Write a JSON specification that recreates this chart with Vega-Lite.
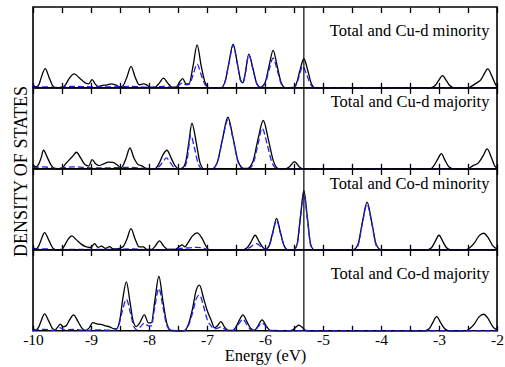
{
  "$schema": "https://vega.github.io/schema/vega-lite/v6.json",
  "background": "white",
  "padding": {"left": 11, "top": 5, "right": 0, "bottom": 0},
  "spacing": 0,
  "bounds": "flush",
  "config": {
    "font": "Liberation Serif",
    "view": {"stroke": "black", "strokeWidth": 1.6},
    "axis": {"tickColor": "black", "labelColor": "black", "titleColor": "black", "labelFont": "Liberation Serif", "titleFont": "Liberation Serif", "labelFontSize": 15.5, "titleFontSize": 18, "titleFontWeight": "normal", "tickWidth": 1.3, "domain": false, "grid": false, "labelFlush": false, "labelOverlap": false}
  },
  "datasets": {
    "L": [
      {"p": 1, "x": -2.13, "y": 52.7, "label": "Total and Cu-d minority"},
      {"p": 2, "x": -2.13, "y": 62.5, "label": "Total and Cu-d majority"},
      {"p": 3, "x": -2.13, "y": 61, "label": "Total and Co-d minority"},
      {"p": 4, "x": -2.13, "y": 52.3, "label": "Total and Co-d majority"}
    ],
    "d": [
      {"p":1,"s":"t","x":-10,"y":3},{"p":1,"s":"t","x":-9.95,"y":1},{"p":1,"s":"t","x":-9.9,"y":3},{"p":1,"s":"t","x":-9.86,"y":10},{"p":1,"s":"t","x":-9.79,"y":19.3},{"p":1,"s":"t","x":-9.72,"y":10},{"p":1,"s":"t","x":-9.66,"y":2},{"p":1,"s":"t","x":-9.6,"y":0},{"p":1,"s":"t","x":-9.5,"y":0.5},{"p":1,"s":"t","x":-9.44,"y":3},{"p":1,"s":"t","x":-9.38,"y":9},{"p":1,"s":"t","x":-9.29,"y":14},{"p":1,"s":"t","x":-9.2,"y":10},{"p":1,"s":"t","x":-9.1,"y":5},{"p":1,"s":"t","x":-9.04,"y":4},{"p":1,"s":"t","x":-8.98,"y":8.3},{"p":1,"s":"t","x":-8.93,"y":4},{"p":1,"s":"t","x":-8.88,"y":1.5},{"p":1,"s":"t","x":-8.8,"y":2.5},{"p":1,"s":"t","x":-8.72,"y":3},{"p":1,"s":"t","x":-8.65,"y":4},{"p":1,"s":"t","x":-8.58,"y":3},{"p":1,"s":"t","x":-8.5,"y":1},{"p":1,"s":"t","x":-8.45,"y":2},{"p":1,"s":"t","x":-8.38,"y":11},{"p":1,"s":"t","x":-8.31,"y":21.7},{"p":1,"s":"t","x":-8.24,"y":11},{"p":1,"s":"t","x":-8.17,"y":3},{"p":1,"s":"t","x":-8.1,"y":4},{"p":1,"s":"t","x":-8.04,"y":3},{"p":1,"s":"t","x":-7.98,"y":0.5},{"p":1,"s":"t","x":-7.9,"y":0.5},{"p":1,"s":"t","x":-7.82,"y":5},{"p":1,"s":"t","x":-7.75,"y":9.7},{"p":1,"s":"t","x":-7.68,"y":5},{"p":1,"s":"t","x":-7.6,"y":0.5},{"p":1,"s":"t","x":-7.52,"y":1},{"p":1,"s":"t","x":-7.47,"y":6},{"p":1,"s":"t","x":-7.42,"y":9.3},{"p":1,"s":"t","x":-7.36,"y":4},{"p":1,"s":"t","x":-7.31,"y":4},{"p":1,"s":"t","x":-7.24,"y":22},{"p":1,"s":"t","x":-7.17,"y":43.3},{"p":1,"s":"t","x":-7.1,"y":22},{"p":1,"s":"t","x":-7.03,"y":5},{"p":1,"s":"t","x":-6.96,"y":0},{"p":1,"s":"t","x":-6.76,"y":0},{"p":1,"s":"t","x":-6.69,"y":6},{"p":1,"s":"t","x":-6.62,"y":26},{"p":1,"s":"t","x":-6.55,"y":44},{"p":1,"s":"t","x":-6.48,"y":26},{"p":1,"s":"t","x":-6.42,"y":8},{"p":1,"s":"t","x":-6.38,"y":5},{"p":1,"s":"t","x":-6.34,"y":15},{"p":1,"s":"t","x":-6.28,"y":34},{"p":1,"s":"t","x":-6.21,"y":20},{"p":1,"s":"t","x":-6.14,"y":4},{"p":1,"s":"t","x":-6.08,"y":0.5},{"p":1,"s":"t","x":-6.0,"y":5},{"p":1,"s":"t","x":-5.93,"y":22},{"p":1,"s":"t","x":-5.86,"y":37.7},{"p":1,"s":"t","x":-5.79,"y":22},{"p":1,"s":"t","x":-5.72,"y":5},{"p":1,"s":"t","x":-5.65,"y":0},{"p":1,"s":"t","x":-5.5,"y":0.5},{"p":1,"s":"t","x":-5.46,"y":4},{"p":1,"s":"t","x":-5.4,"y":17},{"p":1,"s":"t","x":-5.33,"y":29.3},{"p":1,"s":"t","x":-5.26,"y":17},{"p":1,"s":"t","x":-5.2,"y":4},{"p":1,"s":"t","x":-5.14,"y":0},{"p":1,"s":"t","x":-3.15,"y":0},{"p":1,"s":"t","x":-3.07,"y":2},{"p":1,"s":"t","x":-3.01,"y":7},{"p":1,"s":"t","x":-2.94,"y":12.3},{"p":1,"s":"t","x":-2.87,"y":7},{"p":1,"s":"t","x":-2.81,"y":2},{"p":1,"s":"t","x":-2.74,"y":0},{"p":1,"s":"t","x":-2.5,"y":0},{"p":1,"s":"t","x":-2.43,"y":2},{"p":1,"s":"t","x":-2.35,"y":5},{"p":1,"s":"t","x":-2.28,"y":8},{"p":1,"s":"t","x":-2.22,"y":14},{"p":1,"s":"t","x":-2.16,"y":19},{"p":1,"s":"t","x":-2.09,"y":12},{"p":1,"s":"t","x":-2.03,"y":4},{"p":1,"s":"t","x":-2.0,"y":1},
      {"p":1,"s":"p","x":-10,"y":0.5},{"p":1,"s":"p","x":-9.8,"y":1},{"p":1,"s":"p","x":-9.6,"y":0.5},{"p":1,"s":"p","x":-9.3,"y":1.5},{"p":1,"s":"p","x":-9.0,"y":1},{"p":1,"s":"p","x":-8.6,"y":1},{"p":1,"s":"p","x":-8.3,"y":1.5},{"p":1,"s":"p","x":-8.0,"y":0.5},{"p":1,"s":"p","x":-7.75,"y":1.5},{"p":1,"s":"p","x":-7.6,"y":0.5},{"p":1,"s":"p","x":-7.48,"y":3},{"p":1,"s":"p","x":-7.42,"y":5},{"p":1,"s":"p","x":-7.36,"y":3},{"p":1,"s":"p","x":-7.3,"y":4},{"p":1,"s":"p","x":-7.24,"y":13},{"p":1,"s":"p","x":-7.17,"y":24},{"p":1,"s":"p","x":-7.1,"y":13},{"p":1,"s":"p","x":-7.03,"y":3},{"p":1,"s":"p","x":-6.96,"y":0},{"p":1,"s":"p","x":-6.76,"y":0},{"p":1,"s":"p","x":-6.69,"y":6},{"p":1,"s":"p","x":-6.62,"y":25},{"p":1,"s":"p","x":-6.55,"y":43},{"p":1,"s":"p","x":-6.48,"y":25},{"p":1,"s":"p","x":-6.42,"y":7},{"p":1,"s":"p","x":-6.38,"y":5},{"p":1,"s":"p","x":-6.34,"y":14},{"p":1,"s":"p","x":-6.28,"y":33},{"p":1,"s":"p","x":-6.21,"y":19},{"p":1,"s":"p","x":-6.14,"y":4},{"p":1,"s":"p","x":-6.08,"y":0.5},{"p":1,"s":"p","x":-6.0,"y":4},{"p":1,"s":"p","x":-5.93,"y":18},{"p":1,"s":"p","x":-5.86,"y":30},{"p":1,"s":"p","x":-5.79,"y":18},{"p":1,"s":"p","x":-5.72,"y":4},{"p":1,"s":"p","x":-5.65,"y":0},{"p":1,"s":"p","x":-5.5,"y":0},{"p":1,"s":"p","x":-5.46,"y":3},{"p":1,"s":"p","x":-5.41,"y":12},{"p":1,"s":"p","x":-5.35,"y":22},{"p":1,"s":"p","x":-5.28,"y":13},{"p":1,"s":"p","x":-5.21,"y":3},{"p":1,"s":"p","x":-5.14,"y":0},{"p":1,"s":"p","x":-2.0,"y":0},
      {"p":2,"s":"t","x":-10,"y":4},{"p":2,"s":"t","x":-9.95,"y":2},{"p":2,"s":"t","x":-9.9,"y":5},{"p":2,"s":"t","x":-9.86,"y":11},{"p":2,"s":"t","x":-9.82,"y":18.7},{"p":2,"s":"t","x":-9.75,"y":11},{"p":2,"s":"t","x":-9.68,"y":3},{"p":2,"s":"t","x":-9.6,"y":0},{"p":2,"s":"t","x":-9.5,"y":0.5},{"p":2,"s":"t","x":-9.44,"y":5},{"p":2,"s":"t","x":-9.38,"y":8.7},{"p":2,"s":"t","x":-9.31,"y":13},{"p":2,"s":"t","x":-9.25,"y":16.7},{"p":2,"s":"t","x":-9.18,"y":11},{"p":2,"s":"t","x":-9.1,"y":4},{"p":2,"s":"t","x":-9.04,"y":2.7},{"p":2,"s":"t","x":-8.98,"y":9.3},{"p":2,"s":"t","x":-8.92,"y":5},{"p":2,"s":"t","x":-8.86,"y":3.3},{"p":2,"s":"t","x":-8.78,"y":5},{"p":2,"s":"t","x":-8.7,"y":6.7},{"p":2,"s":"t","x":-8.62,"y":6.5},{"p":2,"s":"t","x":-8.55,"y":4},{"p":2,"s":"t","x":-8.48,"y":1},{"p":2,"s":"t","x":-8.4,"y":10},{"p":2,"s":"t","x":-8.33,"y":21},{"p":2,"s":"t","x":-8.26,"y":11},{"p":2,"s":"t","x":-8.19,"y":4.3},{"p":2,"s":"t","x":-8.12,"y":3},{"p":2,"s":"t","x":-8.05,"y":0.5},{"p":2,"s":"t","x":-7.9,"y":0},{"p":2,"s":"t","x":-7.83,"y":5},{"p":2,"s":"t","x":-7.76,"y":14},{"p":2,"s":"t","x":-7.69,"y":18.7},{"p":2,"s":"t","x":-7.62,"y":11},{"p":2,"s":"t","x":-7.55,"y":3},{"p":2,"s":"t","x":-7.48,"y":0},{"p":2,"s":"t","x":-7.42,"y":1},{"p":2,"s":"t","x":-7.36,"y":9},{"p":2,"s":"t","x":-7.31,"y":28},{"p":2,"s":"t","x":-7.26,"y":46},{"p":2,"s":"t","x":-7.19,"y":28},{"p":2,"s":"t","x":-7.12,"y":6},{"p":2,"s":"t","x":-7.05,"y":0},{"p":2,"s":"t","x":-6.91,"y":0},{"p":2,"s":"t","x":-6.82,"y":7},{"p":2,"s":"t","x":-6.73,"y":31},{"p":2,"s":"t","x":-6.64,"y":52},{"p":2,"s":"t","x":-6.55,"y":31},{"p":2,"s":"t","x":-6.46,"y":7},{"p":2,"s":"t","x":-6.37,"y":0.5},{"p":2,"s":"t","x":-6.3,"y":0.5},{"p":2,"s":"t","x":-6.21,"y":7},{"p":2,"s":"t","x":-6.12,"y":30},{"p":2,"s":"t","x":-6.03,"y":48.7},{"p":2,"s":"t","x":-5.94,"y":29},{"p":2,"s":"t","x":-5.85,"y":7},{"p":2,"s":"t","x":-5.76,"y":0},{"p":2,"s":"t","x":-5.65,"y":0},{"p":2,"s":"t","x":-5.58,"y":2},{"p":2,"s":"t","x":-5.49,"y":7.3},{"p":2,"s":"t","x":-5.41,"y":2},{"p":2,"s":"t","x":-5.35,"y":0},{"p":2,"s":"t","x":-3.15,"y":0},{"p":2,"s":"t","x":-3.09,"y":3},{"p":2,"s":"t","x":-3.02,"y":10},{"p":2,"s":"t","x":-2.96,"y":15.3},{"p":2,"s":"t","x":-2.9,"y":9},{"p":2,"s":"t","x":-2.83,"y":2},{"p":2,"s":"t","x":-2.76,"y":0},{"p":2,"s":"t","x":-2.5,"y":0},{"p":2,"s":"t","x":-2.42,"y":3},{"p":2,"s":"t","x":-2.32,"y":6},{"p":2,"s":"t","x":-2.24,"y":13},{"p":2,"s":"t","x":-2.17,"y":20},{"p":2,"s":"t","x":-2.1,"y":12},{"p":2,"s":"t","x":-2.04,"y":3},{"p":2,"s":"t","x":-2.0,"y":1},
      {"p":2,"s":"p","x":-10,"y":1},{"p":2,"s":"p","x":-9.82,"y":2},{"p":2,"s":"p","x":-9.6,"y":0.5},{"p":2,"s":"p","x":-9.3,"y":2},{"p":2,"s":"p","x":-9.0,"y":1},{"p":2,"s":"p","x":-8.7,"y":1},{"p":2,"s":"p","x":-8.33,"y":1.5},{"p":2,"s":"p","x":-8.1,"y":0.5},{"p":2,"s":"p","x":-7.9,"y":0},{"p":2,"s":"p","x":-7.83,"y":2},{"p":2,"s":"p","x":-7.76,"y":7},{"p":2,"s":"p","x":-7.7,"y":11},{"p":2,"s":"p","x":-7.63,"y":6},{"p":2,"s":"p","x":-7.56,"y":1},{"p":2,"s":"p","x":-7.48,"y":0},{"p":2,"s":"p","x":-7.4,"y":1},{"p":2,"s":"p","x":-7.34,"y":10},{"p":2,"s":"p","x":-7.28,"y":34},{"p":2,"s":"p","x":-7.22,"y":22},{"p":2,"s":"p","x":-7.15,"y":5},{"p":2,"s":"p","x":-7.08,"y":0},{"p":2,"s":"p","x":-6.91,"y":0},{"p":2,"s":"p","x":-6.82,"y":7},{"p":2,"s":"p","x":-6.73,"y":30},{"p":2,"s":"p","x":-6.64,"y":49.3},{"p":2,"s":"p","x":-6.55,"y":30},{"p":2,"s":"p","x":-6.46,"y":6},{"p":2,"s":"p","x":-6.37,"y":0},{"p":2,"s":"p","x":-6.28,"y":0},{"p":2,"s":"p","x":-6.2,"y":6},{"p":2,"s":"p","x":-6.12,"y":25},{"p":2,"s":"p","x":-6.05,"y":41},{"p":2,"s":"p","x":-5.96,"y":24},{"p":2,"s":"p","x":-5.87,"y":5},{"p":2,"s":"p","x":-5.78,"y":0},{"p":2,"s":"p","x":-2.0,"y":0},
      {"p":3,"s":"t","x":-10,"y":2},{"p":3,"s":"t","x":-9.95,"y":1},{"p":3,"s":"t","x":-9.9,"y":4},{"p":3,"s":"t","x":-9.86,"y":10},{"p":3,"s":"t","x":-9.8,"y":17.3},{"p":3,"s":"t","x":-9.73,"y":10},{"p":3,"s":"t","x":-9.66,"y":2},{"p":3,"s":"t","x":-9.6,"y":0},{"p":3,"s":"t","x":-9.5,"y":0.5},{"p":3,"s":"t","x":-9.45,"y":5},{"p":3,"s":"t","x":-9.39,"y":11},{"p":3,"s":"t","x":-9.33,"y":14},{"p":3,"s":"t","x":-9.25,"y":10},{"p":3,"s":"t","x":-9.17,"y":5.7},{"p":3,"s":"t","x":-9.08,"y":3},{"p":3,"s":"t","x":-9.0,"y":2.3},{"p":3,"s":"t","x":-8.94,"y":6.3},{"p":3,"s":"t","x":-8.88,"y":2.5},{"p":3,"s":"t","x":-8.82,"y":3.7},{"p":3,"s":"t","x":-8.75,"y":1.5},{"p":3,"s":"t","x":-8.68,"y":3.3},{"p":3,"s":"t","x":-8.62,"y":1},{"p":3,"s":"t","x":-8.56,"y":1},{"p":3,"s":"t","x":-8.45,"y":3},{"p":3,"s":"t","x":-8.38,"y":11},{"p":3,"s":"t","x":-8.31,"y":21.3},{"p":3,"s":"t","x":-8.24,"y":11},{"p":3,"s":"t","x":-8.17,"y":3},{"p":3,"s":"t","x":-8.1,"y":3},{"p":3,"s":"t","x":-8.04,"y":0.5},{"p":3,"s":"t","x":-7.95,"y":0.5},{"p":3,"s":"t","x":-7.89,"y":4},{"p":3,"s":"t","x":-7.82,"y":9},{"p":3,"s":"t","x":-7.75,"y":4},{"p":3,"s":"t","x":-7.68,"y":0.5},{"p":3,"s":"t","x":-7.55,"y":0.5},{"p":3,"s":"t","x":-7.48,"y":3},{"p":3,"s":"t","x":-7.43,"y":5},{"p":3,"s":"t","x":-7.38,"y":3},{"p":3,"s":"t","x":-7.33,"y":7},{"p":3,"s":"t","x":-7.25,"y":14},{"p":3,"s":"t","x":-7.17,"y":17},{"p":3,"s":"t","x":-7.09,"y":12},{"p":3,"s":"t","x":-7.02,"y":4},{"p":3,"s":"t","x":-6.96,"y":0},{"p":3,"s":"t","x":-6.38,"y":0},{"p":3,"s":"t","x":-6.31,"y":2},{"p":3,"s":"t","x":-6.24,"y":8},{"p":3,"s":"t","x":-6.17,"y":14.7},{"p":3,"s":"t","x":-6.1,"y":8},{"p":3,"s":"t","x":-6.03,"y":2},{"p":3,"s":"t","x":-5.99,"y":0.5},{"p":3,"s":"t","x":-5.93,"y":4},{"p":3,"s":"t","x":-5.86,"y":19},{"p":3,"s":"t","x":-5.8,"y":31.7},{"p":3,"s":"t","x":-5.74,"y":19},{"p":3,"s":"t","x":-5.67,"y":4},{"p":3,"s":"t","x":-5.61,"y":0},{"p":3,"s":"t","x":-5.51,"y":0},{"p":3,"s":"t","x":-5.45,"y":5},{"p":3,"s":"t","x":-5.39,"y":33},{"p":3,"s":"t","x":-5.33,"y":59.7},{"p":3,"s":"t","x":-5.27,"y":33},{"p":3,"s":"t","x":-5.21,"y":5},{"p":3,"s":"t","x":-5.15,"y":0},{"p":3,"s":"t","x":-4.48,"y":0},{"p":3,"s":"t","x":-4.4,"y":5},{"p":3,"s":"t","x":-4.32,"y":28},{"p":3,"s":"t","x":-4.24,"y":48},{"p":3,"s":"t","x":-4.16,"y":28},{"p":3,"s":"t","x":-4.08,"y":5},{"p":3,"s":"t","x":-4.0,"y":0},{"p":3,"s":"t","x":-3.2,"y":0},{"p":3,"s":"t","x":-3.13,"y":2},{"p":3,"s":"t","x":-3.07,"y":8},{"p":3,"s":"t","x":-3.0,"y":14.7},{"p":3,"s":"t","x":-2.93,"y":8},{"p":3,"s":"t","x":-2.87,"y":2},{"p":3,"s":"t","x":-2.8,"y":0},{"p":3,"s":"t","x":-2.55,"y":0},{"p":3,"s":"t","x":-2.47,"y":2},{"p":3,"s":"t","x":-2.39,"y":7},{"p":3,"s":"t","x":-2.31,"y":14},{"p":3,"s":"t","x":-2.23,"y":16.7},{"p":3,"s":"t","x":-2.15,"y":12},{"p":3,"s":"t","x":-2.07,"y":4},{"p":3,"s":"t","x":-2.0,"y":1},
      {"p":3,"s":"p","x":-10,"y":0.5},{"p":3,"s":"p","x":-9.8,"y":1},{"p":3,"s":"p","x":-9.6,"y":0},{"p":3,"s":"p","x":-9.3,"y":0.5},{"p":3,"s":"p","x":-8.6,"y":0.5},{"p":3,"s":"p","x":-8.31,"y":1},{"p":3,"s":"p","x":-8.0,"y":0},{"p":3,"s":"p","x":-7.6,"y":0.5},{"p":3,"s":"p","x":-7.45,"y":1.5},{"p":3,"s":"p","x":-7.3,"y":2},{"p":3,"s":"p","x":-7.17,"y":2.5},{"p":3,"s":"p","x":-7.05,"y":1.5},{"p":3,"s":"p","x":-6.96,"y":0},{"p":3,"s":"p","x":-6.35,"y":0},{"p":3,"s":"p","x":-6.27,"y":2},{"p":3,"s":"p","x":-6.2,"y":5},{"p":3,"s":"p","x":-6.14,"y":6.3},{"p":3,"s":"p","x":-6.07,"y":3},{"p":3,"s":"p","x":-6.0,"y":0.5},{"p":3,"s":"p","x":-5.93,"y":4},{"p":3,"s":"p","x":-5.86,"y":18},{"p":3,"s":"p","x":-5.8,"y":30},{"p":3,"s":"p","x":-5.74,"y":18},{"p":3,"s":"p","x":-5.67,"y":4},{"p":3,"s":"p","x":-5.61,"y":0},{"p":3,"s":"p","x":-5.51,"y":0},{"p":3,"s":"p","x":-5.45,"y":4},{"p":3,"s":"p","x":-5.39,"y":31},{"p":3,"s":"p","x":-5.33,"y":57},{"p":3,"s":"p","x":-5.27,"y":31},{"p":3,"s":"p","x":-5.21,"y":4},{"p":3,"s":"p","x":-5.15,"y":0},{"p":3,"s":"p","x":-4.48,"y":0},{"p":3,"s":"p","x":-4.4,"y":4},{"p":3,"s":"p","x":-4.32,"y":27},{"p":3,"s":"p","x":-4.24,"y":46},{"p":3,"s":"p","x":-4.16,"y":27},{"p":3,"s":"p","x":-4.08,"y":4},{"p":3,"s":"p","x":-4.0,"y":0},{"p":3,"s":"p","x":-2.0,"y":0},
      {"p":4,"s":"t","x":-10,"y":2},{"p":4,"s":"t","x":-9.95,"y":1},{"p":4,"s":"t","x":-9.9,"y":4},{"p":4,"s":"t","x":-9.86,"y":10},{"p":4,"s":"t","x":-9.8,"y":17},{"p":4,"s":"t","x":-9.73,"y":10},{"p":4,"s":"t","x":-9.66,"y":2},{"p":4,"s":"t","x":-9.62,"y":1},{"p":4,"s":"t","x":-9.57,"y":4},{"p":4,"s":"t","x":-9.53,"y":6.7},{"p":4,"s":"t","x":-9.48,"y":4},{"p":4,"s":"t","x":-9.43,"y":5},{"p":4,"s":"t","x":-9.37,"y":11},{"p":4,"s":"t","x":-9.3,"y":16},{"p":4,"s":"t","x":-9.23,"y":10},{"p":4,"s":"t","x":-9.16,"y":3},{"p":4,"s":"t","x":-9.1,"y":0.5},{"p":4,"s":"t","x":-9.03,"y":3},{"p":4,"s":"t","x":-8.97,"y":8.3},{"p":4,"s":"t","x":-8.9,"y":7},{"p":4,"s":"t","x":-8.83,"y":6.5},{"p":4,"s":"t","x":-8.75,"y":5},{"p":4,"s":"t","x":-8.68,"y":4},{"p":4,"s":"t","x":-8.6,"y":2},{"p":4,"s":"t","x":-8.56,"y":2},{"p":4,"s":"t","x":-8.5,"y":12},{"p":4,"s":"t","x":-8.45,"y":33},{"p":4,"s":"t","x":-8.39,"y":49.3},{"p":4,"s":"t","x":-8.33,"y":30},{"p":4,"s":"t","x":-8.27,"y":9},{"p":4,"s":"t","x":-8.22,"y":4.3},{"p":4,"s":"t","x":-8.16,"y":8},{"p":4,"s":"t","x":-8.08,"y":16},{"p":4,"s":"t","x":-8.01,"y":8},{"p":4,"s":"t","x":-7.96,"y":8},{"p":4,"s":"t","x":-7.9,"y":30},{"p":4,"s":"t","x":-7.83,"y":55},{"p":4,"s":"t","x":-7.76,"y":30},{"p":4,"s":"t","x":-7.69,"y":7},{"p":4,"s":"t","x":-7.62,"y":0.5},{"p":4,"s":"t","x":-7.4,"y":0},{"p":4,"s":"t","x":-7.33,"y":5},{"p":4,"s":"t","x":-7.25,"y":22},{"p":4,"s":"t","x":-7.19,"y":40},{"p":4,"s":"t","x":-7.13,"y":46},{"p":4,"s":"t","x":-7.06,"y":33},{"p":4,"s":"t","x":-7.0,"y":21},{"p":4,"s":"t","x":-6.93,"y":11},{"p":4,"s":"t","x":-6.87,"y":3},{"p":4,"s":"t","x":-6.82,"y":5},{"p":4,"s":"t","x":-6.76,"y":9.3},{"p":4,"s":"t","x":-6.7,"y":4},{"p":4,"s":"t","x":-6.63,"y":0.5},{"p":4,"s":"t","x":-6.56,"y":0.5},{"p":4,"s":"t","x":-6.5,"y":4},{"p":4,"s":"t","x":-6.44,"y":11},{"p":4,"s":"t","x":-6.38,"y":16},{"p":4,"s":"t","x":-6.31,"y":9},{"p":4,"s":"t","x":-6.24,"y":2},{"p":4,"s":"t","x":-6.18,"y":0.5},{"p":4,"s":"t","x":-6.12,"y":5},{"p":4,"s":"t","x":-6.05,"y":11},{"p":4,"s":"t","x":-5.98,"y":5},{"p":4,"s":"t","x":-5.91,"y":0.5},{"p":4,"s":"t","x":-5.6,"y":0},{"p":4,"s":"t","x":-5.52,"y":1},{"p":4,"s":"t","x":-5.46,"y":4},{"p":4,"s":"t","x":-5.42,"y":5.7},{"p":4,"s":"t","x":-5.37,"y":4},{"p":4,"s":"t","x":-5.3,"y":0.5},{"p":4,"s":"t","x":-5.2,"y":0},{"p":4,"s":"t","x":-3.25,"y":0},{"p":4,"s":"t","x":-3.17,"y":2},{"p":4,"s":"t","x":-3.11,"y":8},{"p":4,"s":"t","x":-3.04,"y":14.3},{"p":4,"s":"t","x":-2.97,"y":8},{"p":4,"s":"t","x":-2.9,"y":2},{"p":4,"s":"t","x":-2.83,"y":0},{"p":4,"s":"t","x":-2.55,"y":0},{"p":4,"s":"t","x":-2.47,"y":2},{"p":4,"s":"t","x":-2.39,"y":7},{"p":4,"s":"t","x":-2.31,"y":14},{"p":4,"s":"t","x":-2.23,"y":16.7},{"p":4,"s":"t","x":-2.15,"y":12},{"p":4,"s":"t","x":-2.07,"y":4},{"p":4,"s":"t","x":-2.0,"y":1},
      {"p":4,"s":"p","x":-10,"y":0.5},{"p":4,"s":"p","x":-9.8,"y":1.5},{"p":4,"s":"p","x":-9.65,"y":0.5},{"p":4,"s":"p","x":-9.53,"y":3},{"p":4,"s":"p","x":-9.45,"y":1},{"p":4,"s":"p","x":-9.3,"y":1.5},{"p":4,"s":"p","x":-9.1,"y":0.5},{"p":4,"s":"p","x":-8.9,"y":1},{"p":4,"s":"p","x":-8.6,"y":0.5},{"p":4,"s":"p","x":-8.53,"y":4},{"p":4,"s":"p","x":-8.46,"y":20},{"p":4,"s":"p","x":-8.39,"y":31.7},{"p":4,"s":"p","x":-8.32,"y":18},{"p":4,"s":"p","x":-8.26,"y":4},{"p":4,"s":"p","x":-8.21,"y":1},{"p":4,"s":"p","x":-8.15,"y":4},{"p":4,"s":"p","x":-8.08,"y":7.7},{"p":4,"s":"p","x":-8.01,"y":5},{"p":4,"s":"p","x":-7.96,"y":5},{"p":4,"s":"p","x":-7.9,"y":24},{"p":4,"s":"p","x":-7.83,"y":42.7},{"p":4,"s":"p","x":-7.76,"y":24},{"p":4,"s":"p","x":-7.69,"y":5},{"p":4,"s":"p","x":-7.62,"y":0},{"p":4,"s":"p","x":-7.4,"y":0},{"p":4,"s":"p","x":-7.33,"y":4},{"p":4,"s":"p","x":-7.25,"y":18},{"p":4,"s":"p","x":-7.18,"y":33},{"p":4,"s":"p","x":-7.13,"y":36},{"p":4,"s":"p","x":-7.06,"y":25},{"p":4,"s":"p","x":-7.0,"y":12},{"p":4,"s":"p","x":-6.93,"y":5},{"p":4,"s":"p","x":-6.87,"y":2},{"p":4,"s":"p","x":-6.8,"y":3},{"p":4,"s":"p","x":-6.76,"y":4},{"p":4,"s":"p","x":-6.7,"y":2},{"p":4,"s":"p","x":-6.63,"y":0},{"p":4,"s":"p","x":-6.56,"y":0},{"p":4,"s":"p","x":-6.5,"y":3},{"p":4,"s":"p","x":-6.44,"y":8},{"p":4,"s":"p","x":-6.38,"y":11.7},{"p":4,"s":"p","x":-6.31,"y":6},{"p":4,"s":"p","x":-6.24,"y":1},{"p":4,"s":"p","x":-6.18,"y":0.5},{"p":4,"s":"p","x":-6.12,"y":4},{"p":4,"s":"p","x":-6.05,"y":8},{"p":4,"s":"p","x":-5.98,"y":4},{"p":4,"s":"p","x":-5.91,"y":0},{"p":4,"s":"p","x":-2.0,"y":0}
    ]
  },
  "vconcat": [
    {
      "width": 464, "height": 80.8,
      "layer": [
        {"data": {"name": "d"}, "transform": [{"filter": "datum.p == 1 && datum.s == 't'"}], "mark": {"type": "line", "interpolate": "monotone", "color": "black", "strokeWidth": 1.3},
         "encoding": {"x": {"field": "x", "type": "quantitative", "scale": {"domain": [-10, -2], "nice": false, "zero": false}, "axis": {"orient": "bottom", "values": [-10,-9.5,-9,-8.5,-8,-7.5,-7,-6.5,-6,-5.5,-5,-4.5,-4,-3.5,-3,-2.5,-2], "tickSize": -5.5, "labels": false, "title": null}},
                      "y": {"field": "y", "type": "quantitative", "scale": {"domain": [0, 81.5], "nice": false}, "axis": null}}},
        {"data": {"name": "d"}, "transform": [{"filter": "datum.p == 1 && datum.s == 'p'"}], "mark": {"type": "line", "interpolate": "monotone", "color": "#2020f0", "strokeWidth": 1.3, "strokeDash": [6, 3]},
         "encoding": {"x": {"field": "x", "type": "quantitative", "axis": null}, "y": {"field": "y", "type": "quantitative", "axis": null}}},
        {"data": {"values": [{"ef": -5.33}]}, "mark": {"type": "rule", "color": "black", "strokeWidth": 1.2},
         "encoding": {"x": {"field": "ef", "type": "quantitative", "axis": {"orient": "top", "values": [-10,-9.5,-9,-8.5,-8,-7.5,-7,-6.5,-6,-5.5,-5,-4.5,-4,-3.5,-3,-2.5,-2], "tickSize": -5.5, "labels": false, "title": null}}}},
        {"data": {"name": "L"}, "transform": [{"filter": "datum.p == 1"}], "mark": {"type": "text", "align": "right", "baseline": "alphabetic", "fontSize": 16.5, "font": "Liberation Serif", "color": "black"},
         "encoding": {"x": {"field": "x", "type": "quantitative", "axis": null}, "y": {"field": "y", "type": "quantitative", "axis": null}, "text": {"field": "label"}}}
      ],
      "resolve": {"axis": {"x": "independent"}}
    },
    {
      "width": 464, "height": 80.8,
      "layer": [
        {"data": {"name": "d"}, "transform": [{"filter": "datum.p == 2 && datum.s == 't'"}], "mark": {"type": "line", "interpolate": "monotone", "color": "black", "strokeWidth": 1.3},
         "encoding": {"x": {"field": "x", "type": "quantitative", "scale": {"domain": [-10, -2], "nice": false, "zero": false}, "axis": {"orient": "bottom", "values": [-10,-9.5,-9,-8.5,-8,-7.5,-7,-6.5,-6,-5.5,-5,-4.5,-4,-3.5,-3,-2.5,-2], "tickSize": -5.5, "labels": false, "title": null}},
                      "y": {"field": "y", "type": "quantitative", "scale": {"domain": [0, 81.5], "nice": false}, "axis": {"title": "DENSITY OF STATES", "labels": false, "ticks": false, "titleY": 83, "titleBaseline": "alphabetic", "titlePadding": 7}}}},
        {"data": {"name": "d"}, "transform": [{"filter": "datum.p == 2 && datum.s == 'p'"}], "mark": {"type": "line", "interpolate": "monotone", "color": "#2020f0", "strokeWidth": 1.3, "strokeDash": [6, 3]},
         "encoding": {"x": {"field": "x", "type": "quantitative", "axis": null}, "y": {"field": "y", "type": "quantitative", "axis": null}}},
        {"data": {"values": [{"ef": -5.33}]}, "mark": {"type": "rule", "color": "black", "strokeWidth": 1.2},
         "encoding": {"x": {"field": "ef", "type": "quantitative", "axis": {"orient": "top", "values": [-10,-9.5,-9,-8.5,-8,-7.5,-7,-6.5,-6,-5.5,-5,-4.5,-4,-3.5,-3,-2.5,-2], "tickSize": -5.5, "labels": false, "title": null}}}},
        {"data": {"name": "L"}, "transform": [{"filter": "datum.p == 2"}], "mark": {"type": "text", "align": "right", "baseline": "alphabetic", "fontSize": 16.5, "font": "Liberation Serif", "color": "black"},
         "encoding": {"x": {"field": "x", "type": "quantitative", "axis": null}, "y": {"field": "y", "type": "quantitative", "axis": null}, "text": {"field": "label"}}}
      ],
      "resolve": {"axis": {"x": "independent", "y": "independent"}}
    },
    {
      "width": 464, "height": 80.8,
      "layer": [
        {"data": {"name": "d"}, "transform": [{"filter": "datum.p == 3 && datum.s == 't'"}], "mark": {"type": "line", "interpolate": "monotone", "color": "black", "strokeWidth": 1.3},
         "encoding": {"x": {"field": "x", "type": "quantitative", "scale": {"domain": [-10, -2], "nice": false, "zero": false}, "axis": {"orient": "bottom", "values": [-10,-9.5,-9,-8.5,-8,-7.5,-7,-6.5,-6,-5.5,-5,-4.5,-4,-3.5,-3,-2.5,-2], "tickSize": -5.5, "labels": false, "title": null}},
                      "y": {"field": "y", "type": "quantitative", "scale": {"domain": [0, 81.5], "nice": false}, "axis": null}}},
        {"data": {"name": "d"}, "transform": [{"filter": "datum.p == 3 && datum.s == 'p'"}], "mark": {"type": "line", "interpolate": "monotone", "color": "#2020f0", "strokeWidth": 1.3, "strokeDash": [6, 3]},
         "encoding": {"x": {"field": "x", "type": "quantitative", "axis": null}, "y": {"field": "y", "type": "quantitative", "axis": null}}},
        {"data": {"values": [{"ef": -5.33}]}, "mark": {"type": "rule", "color": "black", "strokeWidth": 1.2},
         "encoding": {"x": {"field": "ef", "type": "quantitative", "axis": {"orient": "top", "values": [-10,-9.5,-9,-8.5,-8,-7.5,-7,-6.5,-6,-5.5,-5,-4.5,-4,-3.5,-3,-2.5,-2], "tickSize": -5.5, "labels": false, "title": null}}}},
        {"data": {"name": "L"}, "transform": [{"filter": "datum.p == 3"}], "mark": {"type": "text", "align": "right", "baseline": "alphabetic", "fontSize": 16.5, "font": "Liberation Serif", "color": "black"},
         "encoding": {"x": {"field": "x", "type": "quantitative", "axis": null}, "y": {"field": "y", "type": "quantitative", "axis": null}, "text": {"field": "label"}}}
      ],
      "resolve": {"axis": {"x": "independent"}}
    },
    {
      "width": 464, "height": 80.8,
      "layer": [
        {"data": {"name": "d"}, "transform": [{"filter": "datum.p == 4 && datum.s == 't'"}], "mark": {"type": "line", "interpolate": "monotone", "color": "black", "strokeWidth": 1.3},
         "encoding": {"x": {"field": "x", "type": "quantitative", "scale": {"domain": [-10, -2], "nice": false, "zero": false}, "axis": {"orient": "bottom", "values": [-10,-9.5,-9,-8.5,-8,-7.5,-7,-6.5,-6,-5.5,-5,-4.5,-4,-3.5,-3,-2.5,-2], "tickSize": -5.5, "labelExpr": "datum.value % 1 == 0 ? '' + datum.value : ''", "labelPadding": 7, "title": "Energy (eV)", "titleFontSize": 16.5, "titlePadding": 0}},
                      "y": {"field": "y", "type": "quantitative", "scale": {"domain": [0, 81.5], "nice": false}, "axis": null}}},
        {"data": {"name": "d"}, "transform": [{"filter": "datum.p == 4 && datum.s == 'p'"}], "mark": {"type": "line", "interpolate": "monotone", "color": "#2020f0", "strokeWidth": 1.3, "strokeDash": [6, 3]},
         "encoding": {"x": {"field": "x", "type": "quantitative", "axis": null}, "y": {"field": "y", "type": "quantitative", "axis": null}}},
        {"data": {"values": [{"ef": -5.33}]}, "mark": {"type": "rule", "color": "black", "strokeWidth": 1.2},
         "encoding": {"x": {"field": "ef", "type": "quantitative", "axis": {"orient": "top", "values": [-10,-9.5,-9,-8.5,-8,-7.5,-7,-6.5,-6,-5.5,-5,-4.5,-4,-3.5,-3,-2.5,-2], "tickSize": -5.5, "labels": false, "title": null}}}},
        {"data": {"name": "L"}, "transform": [{"filter": "datum.p == 4"}], "mark": {"type": "text", "align": "right", "baseline": "alphabetic", "fontSize": 16.5, "font": "Liberation Serif", "color": "black"},
         "encoding": {"x": {"field": "x", "type": "quantitative", "axis": null}, "y": {"field": "y", "type": "quantitative", "axis": null}, "text": {"field": "label"}}}
      ],
      "resolve": {"axis": {"x": "independent"}}
    }
  ]
}
